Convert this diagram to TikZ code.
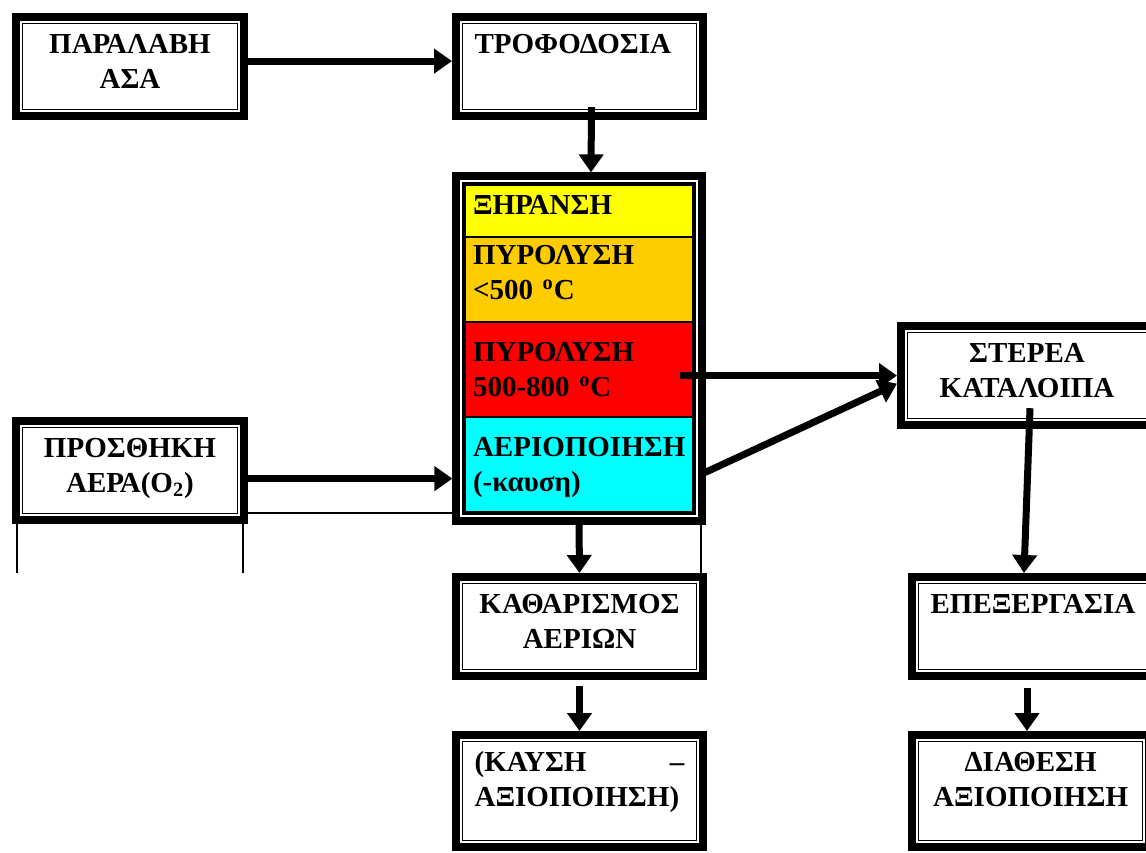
\documentclass[tikz,border=0pt]{standalone}
\usepackage{fontspec}
\setmainfont{Liberation Serif}
\usetikzlibrary{arrows.meta,calc,fit}
\definecolor{xiryellow}{RGB}{255,255,0}
\definecolor{pyrorange}{RGB}{255,204,0}
\definecolor{pyrred}{RGB}{255,0,0}
\definecolor{aercyan}{RGB}{0,255,255}

\begin{document}
\begin{tikzpicture}[x=0.5pt, y=-0.5pt, font=\bfseries\fontsize{14.5}{17.5}\selectfont,
  frame/.style={draw, line width=0.6pt, outer sep=5.3pt},
  box/.style={frame, anchor=north west, inner xsep=6pt, inner ysep=5pt, text height=10pt, text depth=#1},
  box/.default=23pt,
  layer/.style={draw, line width=0.6pt, outer sep=0pt, anchor=north west, text width=106pt, inner xsep=4pt, text height=10pt, align=left},
  arr/.style={line width=3.5pt, -{Triangle[length=9pt, width=12pt]}},
  rule/.style={line width=0.8pt}]
\useasboundingbox (0,0) rectangle (1146,852); \clip (0,0) rectangle (1146,852);
\node[box, text width=95.4pt, align=center] (para) at (12,13) {ΠΑΡΑΛΑΒΗ\\ΑΣΑ};
\node[box, text width=104.9pt, align=left] (trof) at (452,13) {ΤΡΟΦΟΔΟΣΙΑ};
\node[layer, fill=xiryellow, inner ysep=4.8pt, text depth=6.4pt] (xir) at (465,185) {ΞΗΡΑΝΣΗ};
\node[layer, fill=pyrorange, inner ysep=3.8pt, text depth=24.9pt] (pyrlow) at (465,237) {ΠΥΡΟΛΥΣΗ\\<500 \textsuperscript{o}C};
\node[layer, fill=pyrred, inner ysep=9.8pt, text depth=17.9pt] (pyrhigh) at (465,322) {ΠΥΡΟΛΥΣΗ\\500-800 \textsuperscript{o}C};
\node[layer, fill=aercyan, inner ysep=9.8pt, text depth=17.9pt] (aer) at (465,417) {ΑΕΡΙΟΠΟΙΗΣΗ\\(-καυση)};
\node[frame, inner sep=1pt, fit=(xir)(aer)] (reactor) {};
\node[box, text width=107.4pt, align=center] (ster) at (897,322) {ΣΤΕΡΕΑ\\ΚΑΤΑΛΟΙΠΑ};
\node[box, text width=104.9pt, align=center] (kath) at (452,573) {ΚΑΘΑΡΙΣΜΟΣ\\ΑΕΡΙΩΝ};
\node[box=29.4pt, text width=104.9pt, align=left] (kaysi) at (452,731) {(ΚΑΥΣΗ \hfill –\\ΑΞΙΟΠΟΙΗΣΗ)};
\node[box, text width=104.9pt, align=left] (epex) at (908,573) {ΕΠΕΞΕΡΓΑΣΙΑ};
\node[box=29.4pt, text width=100pt, align=center] (diath) at (908,731) {ΔΙΑΘΕΣΗ\\ΑΞΙΟΠΟΙΗΣΗ};
\node[box, text width=95.4pt, align=center] (prosth) at (12,417) {ΠΡΟΣΘΗΚΗ\\ΑΕΡΑ(O\textsubscript{2})};
\foreach \n in {para,trof,reactor,ster,kath,kaysi,epex,diath,prosth}
  \draw[line width=4pt] ([shift={(2pt,-2pt)}]\n.north west) rectangle ([shift={(-2pt,2pt)}]\n.south east);
\draw[rule] (prosth.south east |- 0,513) -- (reactor.west |- 0,513);
\draw[rule] (17,523) -- (17,573); \draw[rule] (243,523) -- (243,573); \draw[rule] (701,524) -- (701,573);
\draw[arr] ([yshift=2.75pt]para.east) -- ([yshift=2.75pt]trof.west);
\draw[arr] ([shift={(6pt,6.5pt)}]trof.south) -- ([xshift=6pt]reactor.north);
\draw[arr] ($(prosth.east)+(0pt,-4pt)$) -- ($(prosth.east -| reactor.west)+(0pt,-4pt)$);
\draw[arr] ($(pyrhigh.east |- ster.west)+(-6.5pt,0pt)$) -- (ster.west);
\draw[arr] ($(aer.east)+(6pt,-4pt)$) -- ([yshift=-4pt]ster.west);
\draw[arr] (reactor.south) -- (kath.north);
\draw[arr, shorten <=3pt] (kath.south) -- (kaysi.north);
\draw[arr] ([shift={(1.5pt,10.5pt)}]ster.south) -- ([xshift=-5.75pt]epex.north);
\draw[arr, shorten <=4pt] ([xshift=-4.25pt]epex.south) -- ([xshift=-4.25pt]epex.south |- diath.north);
\end{tikzpicture}
\end{document}
